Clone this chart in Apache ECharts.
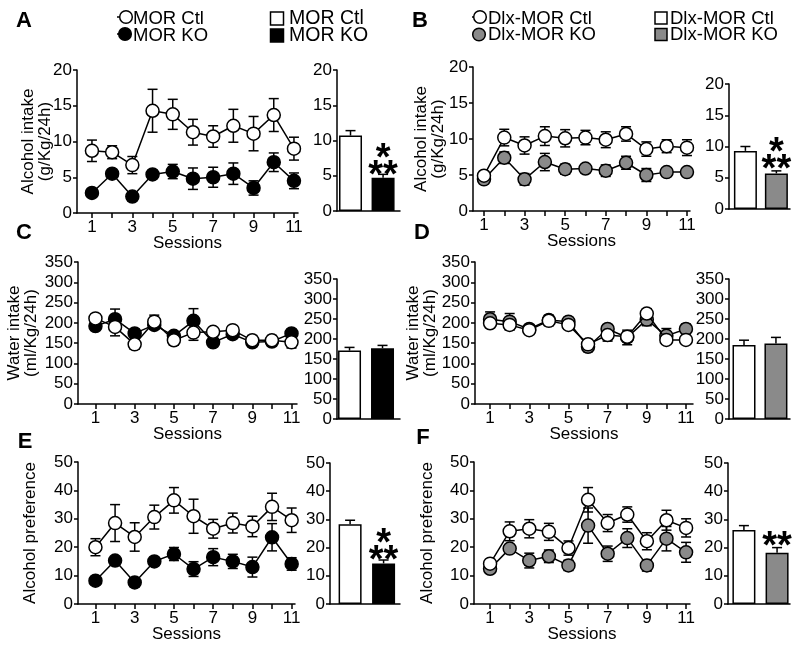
<!DOCTYPE html>
<html>
<head>
<meta charset="utf-8">
<script src="https://cdn.jsdelivr.net/npm/echarts@6/dist/echarts.min.js"></script>
<style>
  html, body { margin: 0; padding: 0; background: #fff; }
  #chart { width: 800px; height: 649px; }
</style>
</head>
<body>
<div id="chart"></div>
<script>
// sessions and the labelled ones
const sessions = [1, 2, 3, 4, 5, 6, 7, 8, 9, 10, 11];
const sessionLabels = [1, 3, 5, 7, 9, 11];

// A - alcohol intake, MOR
const aCtl = [8.7, 8.5, 6.7, 14.3, 13.8, 11.3, 10.7, 12.2, 11.1, 13.7, 9.0];
const aCtlSem = [1.5, 0.9, 1.2, 3.0, 2.1, 1.8, 1.5, 2.3, 2.4, 2.3, 1.6];
const aKo = [2.8, 5.5, 2.3, 5.4, 5.8, 4.8, 5.0, 5.5, 3.5, 7.1, 4.5];
const aKoSem = [0.4, 0.5, 0.4, 0.5, 1.0, 1.5, 1.4, 1.5, 1.0, 1.3, 1.1];
const aBar = [10.7, 4.7];
const aBarSem = [0.7, 0.5];

// B - alcohol intake, Dlx-MOR
const bCtl = [4.9, 10.2, 9.1, 10.4, 10.1, 10.2, 9.9, 10.7, 8.6, 9.0, 8.8];
const bCtlSem = [0.3, 1.15, 1.2, 1.3, 1.2, 1.0, 1.1, 1.0, 1.0, 0.9, 1.1];
const bKo = [4.4, 7.4, 4.4, 6.8, 5.8, 5.9, 5.6, 6.7, 5.0, 5.4, 5.4];
const bKoSem = [0.5, 0.8, 0.8, 1.2, 0.7, 0.5, 0.8, 0.9, 0.9, 0.3, 0.3];
const bBar = [9.3, 5.7];
const bBarSem = [0.7, 0.4];

// C - water intake, MOR
const cCtl = [211, 190, 147, 203, 157, 176, 178, 182, 157, 157, 152];
const cCtlSem = [8, 22, 12, 16, 12, 19, 8, 8, 12, 12, 14];
const cKo = [192, 209, 174, 195, 168, 205, 152, 172, 152, 154, 174];
const cKoSem = [8, 25, 10, 10, 10, 30, 8, 8, 10, 10, 8];
const cBar = [171, 177];
const cBarSem = [8, 7];

// D - water intake, Dlx-MOR
const dCtl = [199, 195, 182, 205, 195, 147, 170, 166, 223, 158, 158];
const dCtlSem = [10, 12, 10, 12, 10, 12, 15, 12, 12, 8, 8];
const dKo = [209, 203, 185, 207, 203, 141, 185, 164, 208, 168, 185];
const dKoSem = [18, 20, 10, 12, 10, 12, 10, 18, 15, 18, 12];
const dBar = [185, 189];
const dBarSem = [12, 15];

// E - alcohol preference, MOR
const eCtl = [20.0, 28.5, 23.6, 30.6, 36.5, 30.9, 26.5, 28.5, 27.3, 34.2, 29.5];
const eCtlSem = [3.0, 6.5, 5.0, 4.2, 4.5, 6.0, 3.3, 3.5, 3.6, 4.8, 4.3];
const eKo = [8.2, 15.3, 7.6, 15.0, 17.6, 12.3, 16.5, 15.0, 13.0, 23.5, 14.1];
const eKoSem = [1.0, 1.2, 1.5, 1.2, 2.3, 2.6, 3.0, 2.5, 3.5, 4.8, 2.2];
const eBar = [28.3, 14.4];
const eBarSem = [1.4, 1.2];

// F - alcohol preference, Dlx-MOR
const fCtl = [14.2, 25.6, 26.5, 25.4, 19.7, 36.7, 28.5, 31.5, 22.1, 29.5, 26.8];
const fCtlSem = [1.2, 3.3, 3.2, 3.0, 2.5, 4.3, 3.0, 2.7, 3.0, 3.5, 3.2];
const fKo = [12.4, 19.5, 15.3, 16.8, 13.6, 27.6, 17.7, 23.2, 13.6, 23.0, 18.2];
const fKoSem = [1.5, 1.2, 2.6, 2.2, 1.8, 6.2, 2.7, 3.3, 2.0, 4.3, 3.5];
const fBar = [26.2, 18.2];
const fBarSem = [1.6, 1.8];

const FONT = '"Liberation Sans", Arial, sans-serif';
const GRAY = '#8a8a8a';

const panels = [
  { letter: 'A', lx: 24, ly: 21, ctl: aCtl, ctlSem: aCtlSem, ko: aKo, koSem: aKoSem, bar: aBar, barSem: aBarSem, koColor: '#000',
    yMax: 20, yStep: 5, yName: 'Alcohol intake\n(g/Kg/24h)', nameGap: 23, stars: '*\n**', starOff: 7,
    line: { left: 77, top: 70, width: 221, height: 143, xMin: 0.26, xMax: 11.2 },
    bars: { left: 337, top: 70, width: 63, height: 141, xMin: 0.585, xMax: 2.52 } },
  { letter: 'B', lx: 420, ly: 21, ctl: bCtl, ctlSem: bCtlSem, ko: bKo, koSem: bKoSem, bar: bBar, barSem: bBarSem, koColor: GRAY,
    yMax: 20, yStep: 5, yName: 'Alcohol intake\n(g/Kg/24h)', nameGap: 26, stars: '*\n**', starOff: 6,
    line: { left: 473, top: 67, width: 217, height: 144, xMin: 0.46, xMax: 11.15 },
    bars: { left: 729, top: 84, width: 61, height: 125, xMin: 0.47, xMax: 2.44 } },
  { letter: 'C', lx: 24, ly: 233, ctl: cCtl, ctlSem: cCtlSem, ko: cKo, koSem: cKoSem, bar: cBar, barSem: cBarSem, koColor: '#000',
    yMax: 350, yStep: 50, yName: 'Water intake\n(ml/Kg/24h)', nameGap: 38, stars: '', starOff: 0,
    line: { left: 78, top: 262, width: 219, height: 142, xMin: 0.11, xMax: 11.28 },
    bars: { left: 337, top: 279, width: 63, height: 140, xMin: 0.62, xMax: 2.53 } },
  { letter: 'D', lx: 422, ly: 233, ctl: dCtl, ctlSem: dCtlSem, ko: dKo, koSem: dKoSem, bar: dBar, barSem: dBarSem, koColor: GRAY,
    yMax: 350, yStep: 50, yName: 'Water intake\n(ml/Kg/24h)', nameGap: 36, stars: '', starOff: 0,
    line: { left: 475, top: 262, width: 218, height: 142, xMin: 0.23, xMax: 11.36 },
    bars: { left: 729, top: 279, width: 61, height: 140, xMin: 0.53, xMax: 2.44 } },
  { letter: 'E', lx: 25, ly: 442, ctl: eCtl, ctlSem: eCtlSem, ko: eKo, koSem: eKoSem, bar: eBar, barSem: eBarSem, koColor: '#000',
    yMax: 50, yStep: 10, yName: 'Alcohol preference', nameGap: 39, stars: '*\n**', starOff: 7,
    line: { left: 78, top: 462, width: 217, height: 142, xMin: 0.11, xMax: 11.17 },
    bars: { left: 330, top: 463, width: 70, height: 141, xMin: 0.40, xMax: 2.49 } },
  { letter: 'F', lx: 423, ly: 438, ctl: fCtl, ctlSem: fCtlSem, ko: fKo, koSem: fKoSem, bar: fBar, barSem: fBarSem, koColor: GRAY,
    yMax: 50, yStep: 10, yName: 'Alcohol preference', nameGap: 38, stars: '**', starOff: 3,
    line: { left: 474, top: 462, width: 216, height: 142, xMin: 0.18, xMax: 11.2 },
    bars: { left: 728, top: 463, width: 62, height: 141, xMin: 0.52, xMax: 2.39 } }
];

const axisLine = { show: true, onZero: false, lineStyle: { color: '#000', width: 1.5 } };
const tickStyle = { color: '#000', width: 1.5 };
const labelStyle = { fontSize: 17, color: '#000', fontFamily: FONT };

// error bars drawn as custom marks (whiskers + caps)
function errorRender(capHalf, upOnly) {
  return function (params, api) {
    const x = api.value(0), y = api.value(1), e = api.value(2);
    const top = api.coord([x, y + e]);
    const bot = api.coord([x, upOnly ? y : y - e]);
    const st = { stroke: '#000', lineWidth: 1.5 };
    const kids = [
      { type: 'line', shape: { x1: top[0], y1: top[1], x2: bot[0], y2: bot[1] }, style: st },
      { type: 'line', shape: { x1: top[0] - capHalf, y1: top[1], x2: top[0] + capHalf, y2: top[1] }, style: st }
    ];
    if (!upOnly) kids.push({ type: 'line', shape: { x1: bot[0] - capHalf, y1: bot[1], x2: bot[0] + capHalf, y2: bot[1] }, style: st });
    return { type: 'group', children: kids };
  };
}

const grid = [], xAxis = [], yAxis = [], series = [];

panels.forEach(function (p, i) {
  const gl = 2 * i, gb = 2 * i + 1;
  grid.push({ left: p.line.left, top: p.line.top, width: p.line.width, height: p.line.height, outerBoundsMode: 'none' });
  grid.push({ left: p.bars.left, top: p.bars.top, width: p.bars.width, height: p.bars.height, outerBoundsMode: 'none' });

  xAxis.push({
    gridIndex: gl, type: 'value', min: p.line.xMin, max: p.line.xMax,
    axisLine: axisLine, splitLine: { show: false },
    axisTick: { show: true, length: 5, lineStyle: tickStyle, customValues: sessions },
    axisLabel: Object.assign({ margin: 6, customValues: sessionLabels }, labelStyle),
    name: 'Sessions', nameLocation: 'middle', nameGap: 22, nameMoveOverlap: false,
    nameTextStyle: { fontSize: 17, color: '#000', fontFamily: FONT }
  });
  xAxis.push({
    gridIndex: gb, type: 'value', min: p.bars.xMin, max: p.bars.xMax,
    axisLine: axisLine, splitLine: { show: false },
    axisTick: { show: false }, axisLabel: { show: false }
  });

  const yCommon = {
    type: 'value', min: 0, max: p.yMax, interval: p.yStep,
    axisLine: axisLine, splitLine: { show: false },
    axisTick: { show: true, length: 4, lineStyle: tickStyle },
    axisLabel: Object.assign({ margin: 5 }, labelStyle)
  };
  yAxis.push(Object.assign({
    gridIndex: gl, name: p.yName, nameLocation: 'middle', nameRotate: 90, nameGap: p.nameGap, nameMoveOverlap: false,
    nameTextStyle: { fontSize: 17, color: '#000', fontFamily: FONT, lineHeight: 17 }
  }, yCommon));
  yAxis.push(Object.assign({ gridIndex: gb }, yCommon));

  const xl = gl, xb = gb;
  // error bars under the lines
  series.push({
    type: 'custom', xAxisIndex: xl, yAxisIndex: xl, z: 1, encode: { x: 0, y: 1 },
    renderItem: errorRender(5, false),
    data: sessions.map(function (s, k) { return [s, p.ko[k], p.koSem[k]]; })
  });
  series.push({
    type: 'custom', xAxisIndex: xl, yAxisIndex: xl, z: 1, encode: { x: 0, y: 1 },
    renderItem: errorRender(5, false),
    data: sessions.map(function (s, k) { return [s, p.ctl[k], p.ctlSem[k]]; })
  });
  series.push({
    type: 'line', xAxisIndex: xl, yAxisIndex: xl, z: 2,
    symbol: 'circle', symbolSize: 13, showSymbol: true, showAllSymbol: true,
    lineStyle: { color: '#000', width: 1.5 },
    itemStyle: { color: p.koColor, borderColor: '#000', borderWidth: 1.5 },
    data: sessions.map(function (s, k) { return [s, p.ko[k]]; })
  });
  series.push({
    type: 'line', xAxisIndex: xl, yAxisIndex: xl, z: 3,
    symbol: 'circle', symbolSize: 13, showSymbol: true, showAllSymbol: true,
    lineStyle: { color: '#000', width: 1.5 },
    itemStyle: { color: '#fff', borderColor: '#000', borderWidth: 1.5 },
    data: sessions.map(function (s, k) { return [s, p.ctl[k]]; })
  });

  // bar summary
  series.push({
    type: 'bar', xAxisIndex: xb, yAxisIndex: xb, z: 2, barWidth: 23,
    itemStyle: { borderColor: '#000', borderWidth: 1.5 },
    data: [
      { value: [1, p.bar[0]], itemStyle: { color: '#fff' } },
      { value: [2, p.bar[1]], itemStyle: { color: p.koColor },
        label: { show: p.stars !== '', position: 'top', distance: 0, offset: [0, p.starOff],
          formatter: p.stars, fontSize: 38, fontWeight: 'bold', lineHeight: 17, color: '#000', fontFamily: FONT } }
    ]
  });
  series.push({
    type: 'custom', xAxisIndex: xb, yAxisIndex: xb, z: 3, encode: { x: 0, y: 1 },
    renderItem: errorRender(5, true),
    data: p.bar.map(function (v, k) { return [k + 1, v, p.barSem[k]]; })
  });
});

// legends and panel letters
function txt(x, y, text, size, bold) {
  return { type: 'text', x: x, y: y, style: { text: text, fontSize: size, fontFamily: FONT, fontWeight: bold ? 'bold' : 'normal',
    fill: '#000', verticalAlign: 'middle', align: bold ? 'center' : 'left' } };
}
function dot(cx, cy, fill) {
  return { type: 'circle', shape: { cx: cx, cy: cy, r: 6.3 }, style: { fill: fill, stroke: '#000', lineWidth: 1.5 } };
}
function stub(x1, x2, y) {
  return { type: 'line', shape: { x1: x1, y1: y, x2: x2, y2: y }, style: { stroke: '#000', lineWidth: 1.5 } };
}
function box(x, y, s, fill) {
  return { type: 'rect', shape: { x: x, y: y, width: s, height: s }, style: { fill: fill, stroke: '#000', lineWidth: 1.5 } };
}

const graphic = [
  stub(117, 121, 17), dot(126, 17, '#fff'), txt(133, 19, 'MOR Ctl', 18.5),
  stub(117, 120, 34), dot(125, 34, '#000'), txt(133, 35.5, 'MOR KO', 18.5),
  box(270.5, 12, 13, '#fff'), txt(289, 19, 'MOR Ctl', 19.5),
  box(270.5, 29, 13, '#000'), txt(289, 36, 'MOR KO', 19.5),
  stub(472, 475, 17), dot(480, 17, '#fff'), txt(488, 18.5, 'Dlx-MOR Ctl', 18.5),
  dot(479, 34.5, GRAY), txt(488, 35, 'Dlx-MOR KO', 18.5),
  box(655, 12, 12, '#fff'), txt(670, 18.5, 'Dlx-MOR Ctl', 18.5),
  box(655, 28.5, 12, GRAY), txt(670, 35, 'Dlx-MOR KO', 18.5)
];
panels.forEach(function (p) { graphic.push(txt(p.lx, p.ly, p.letter, 22, true)); });

const chart = echarts.init(document.getElementById('chart'), null, { renderer: 'canvas' });
chart.setOption({
  animation: false,
  backgroundColor: '#fff',
  textStyle: { fontFamily: FONT },
  grid: grid,
  xAxis: xAxis,
  yAxis: yAxis,
  series: series,
  graphic: graphic
});
</script>
</body>
</html>
